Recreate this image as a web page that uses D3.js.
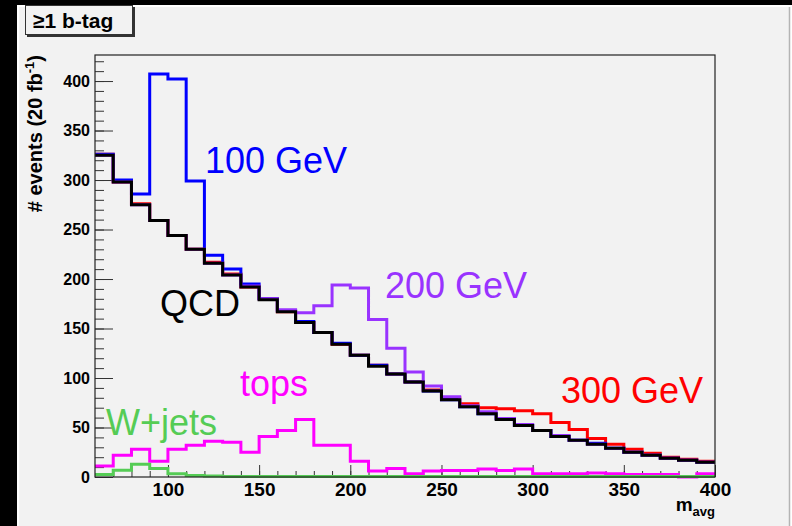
<!DOCTYPE html>
<html>
<head>
<meta charset="utf-8">
<script src="https://cdn.jsdelivr.net/npm/d3@7"></script>
<style>
  body { margin: 0; background: #000; }
  svg { display: block; font-family: "Liberation Sans", Arial, sans-serif; }
</style>
</head>
<body>
<svg id="chart"></svg>
<script>
// bin low edges, width 10
var binEdges = d3.range(60, 400, 10);

var qcd = [325, 298, 275, 259, 244, 230, 216, 204, 192, 179, 167, 156, 146, 134, 123, 112, 104,
           96, 87, 78, 71, 64, 58, 52, 47, 41, 37, 33, 29, 25, 22, 19, 17, 15];
var sig100 = [326, 300, 286, 407, 402, 299, 224, 210, 195, 180, 168, 157, 146, 135, 123, 113, 104,
              96, 87, 78, 71, 64, 59, 52, 47, 41, 37, 34, 29, 25, 22, 19, 17, 15];
var sig200 = [325, 298, 275, 259, 244, 230, 216, 204, 193, 180, 169, 166, 173, 194, 191, 159, 130,
              106, 92, 81, 72, 66, 59, 53, 47, 42, 37, 33, 29, 25, 22, 19, 17, 15];
var sig300 = [326, 298, 276, 259, 244, 230, 217, 205, 192, 180, 167, 156, 146, 134, 123, 113, 104,
              96, 88, 80, 74, 70, 69, 67, 64, 55, 48, 39, 33, 28, 24, 20, 18, 16];
var tops = [11, 22, 28, 16, 28, 32, 36, 35, 25, 41, 47, 58, 32, 32, 16, 6, 8.5,
            3.4, 6, 6.5, 6.5, 8, 6.5, 8, 3.4, 3.4, 3.4, 4, 3.4, 2.5, 2.5, 2.5, 0, 3.4];
var wjets = [2.4, 6.8, 12.8, 8.5, 3.4, 1.5, 1, 0.6, 0.6, 0.6, 0.6, 0.6, 0.6, 0.6, 0.6, 0.6, 0.6,
             0.6, 0.6, 0.6, 0.6, 0.6, 0.6, 0.6, 0.6, 0.6, 0.6, 0.6, 0.6, 0.6, 0.6, 0.6, 0.6, 0.6];

var xMajor = [100, 150, 200, 250, 300, 350, 400];
var yMajor = [0, 50, 100, 150, 200, 250, 300, 350, 400];

var svgWidth = 792, svgHeight = 526;
var margin = { top: 55, right: 77, bottom: 49, left: 95 };
var width = svgWidth - margin.left - margin.right;
var height = svgHeight - margin.top - margin.bottom;

var svg = d3.select("#chart")
    .attr("width", svgWidth)
    .attr("height", svgHeight);

// canvas background with the black border
svg.append("rect").attr("width", svgWidth).attr("height", svgHeight).attr("fill", "#000");
svg.append("rect").attr("x", 17).attr("y", 5).attr("width", svgWidth - 17).attr("height", svgHeight - 5).attr("fill", "#fff");
svg.append("rect").attr("x", 19).attr("y", 7).attr("width", 770).attr("height", svgHeight - 7).attr("fill", "#f2f2f2");
svg.append("line").attr("x1", 789.5).attr("x2", 789.5).attr("y1", 7).attr("y2", svgHeight)
    .attr("stroke", "#b4b4b4").attr("stroke-width", 1.5);

var g = svg.append("g")
    .attr("transform", "translate(" + margin.left + "," + margin.top + ")");

// scales
var x = d3.scaleLinear().domain([60, 400]).range([0, width]);
var y = d3.scaleLinear().domain([0, 426.3]).range([height, 0]);

// x axis: minor then major ticks, pointing into the frame
g.append("g")
    .attr("transform", "translate(0," + height + ")")
    .call(d3.axisBottom(x).tickValues(d3.range(70, 400, 10)).tickSize(-6).tickFormat(""))
    .call(function (s) { s.select(".domain").remove(); s.selectAll("line").attr("stroke", "#333"); });

g.append("g")
    .attr("transform", "translate(0," + height + ")")
    .call(d3.axisBottom(x).tickValues(xMajor).tickSize(-12).tickPadding(6))
    .call(function (s) {
        s.select(".domain").remove();
        s.selectAll("line").attr("stroke", "#333");
        s.selectAll("text").attr("font-size", 19).attr("font-weight", "bold")
            .attr("fill", "#000").attr("font-family", "Liberation Sans, Arial, sans-serif");
    });

// y axis
g.append("g")
    .call(d3.axisLeft(y).tickValues(d3.range(10, 430, 10)).tickSize(-9).tickFormat(""))
    .call(function (s) { s.select(".domain").remove(); s.selectAll("line").attr("stroke", "#333"); });

g.append("g")
    .call(d3.axisLeft(y).tickValues(yMajor).tickSize(-18).tickPadding(5))
    .call(function (s) {
        s.select(".domain").remove();
        s.selectAll("line").attr("stroke", "#333");
        s.selectAll("text").attr("font-size", 16).attr("font-weight", "bold")
            .attr("fill", "#000").attr("font-family", "Liberation Sans, Arial, sans-serif");
    });

// histogram outlines
var line = d3.line()
    .x(function (d) { return x(d[0]); })
    .y(function (d) { return y(d[1]); })
    .curve(d3.curveStepAfter);

function histPoints(vals) {
    var pts = binEdges.map(function (b, i) { return [b, vals[i]]; });
    pts.push([400, vals[vals.length - 1]]);
    return pts;
}

var hists = [
    { vals: sig300, color: "#ff0000" },
    { vals: sig100, color: "#0000ff" },
    { vals: sig200, color: "#9933ff" },
    { vals: qcd, color: "#000000" },
    { vals: tops, color: "#ff00ff" },
    { vals: wjets, color: "#55cc55" }
];

hists.forEach(function (h) {
    g.append("path")
        .datum(histPoints(h.vals))
        .attr("fill", "none")
        .attr("stroke", h.color)
        .attr("stroke-width", 3)
        .attr("stroke-linejoin", "miter")
        .attr("d", line);
});

// frame
g.append("rect")
    .attr("width", width).attr("height", height)
    .attr("fill", "none").attr("stroke", "#222").attr("stroke-width", 1.2);

// labels on the plot
var labels = [
    { text: "100 GeV", x: 205, y: 173, color: "#0000ff" },
    { text: "200 GeV", x: 385, y: 298, color: "#9933ff" },
    { text: "QCD", x: 160, y: 316, color: "#000000" },
    { text: "300 GeV", x: 561, y: 403, color: "#ff0000" },
    { text: "tops", x: 240, y: 396, color: "#ff00ff" },
    { text: "W+jets", x: 106, y: 435, color: "#55cc55" }
];
labels.forEach(function (l) {
    svg.append("text")
        .attr("x", l.x).attr("y", l.y)
        .attr("font-size", 36)
        .attr("fill", l.color)
        .text(l.text);
});

// y title
var yt = svg.append("text")
    .attr("transform", "translate(42,55) rotate(-90)")
    .attr("text-anchor", "end")
    .attr("font-size", 20)
    .attr("font-weight", "bold");
yt.append("tspan").text("# events (20 fb");
yt.append("tspan").attr("font-size", 13).attr("dy", -8).text("-1");
yt.append("tspan").attr("dy", 8).text(")");

// x title
var xt = svg.append("text")
    .attr("x", 715).attr("y", 511)
    .attr("text-anchor", "end")
    .attr("font-weight", "bold")
    .attr("font-size", 19);
xt.append("tspan").text("m");
xt.append("tspan").attr("font-size", 13).attr("dy", 5).text("avg");

// b-tag box with shadow
svg.append("rect").attr("x", 27).attr("y", 7).attr("width", 108).attr("height", 30).attr("fill", "#333");
svg.append("rect").attr("x", 25.5).attr("y", 5.5).attr("width", 107).attr("height", 29)
    .attr("fill", "#f2f2f2").attr("stroke", "#333").attr("stroke-width", 1);
svg.append("text")
    .attr("x", 33).attr("y", 28)
    .attr("font-size", 21)
    .attr("font-weight", "bold")
    .text("\u22651 b-tag");
</script>
</body>
</html>
